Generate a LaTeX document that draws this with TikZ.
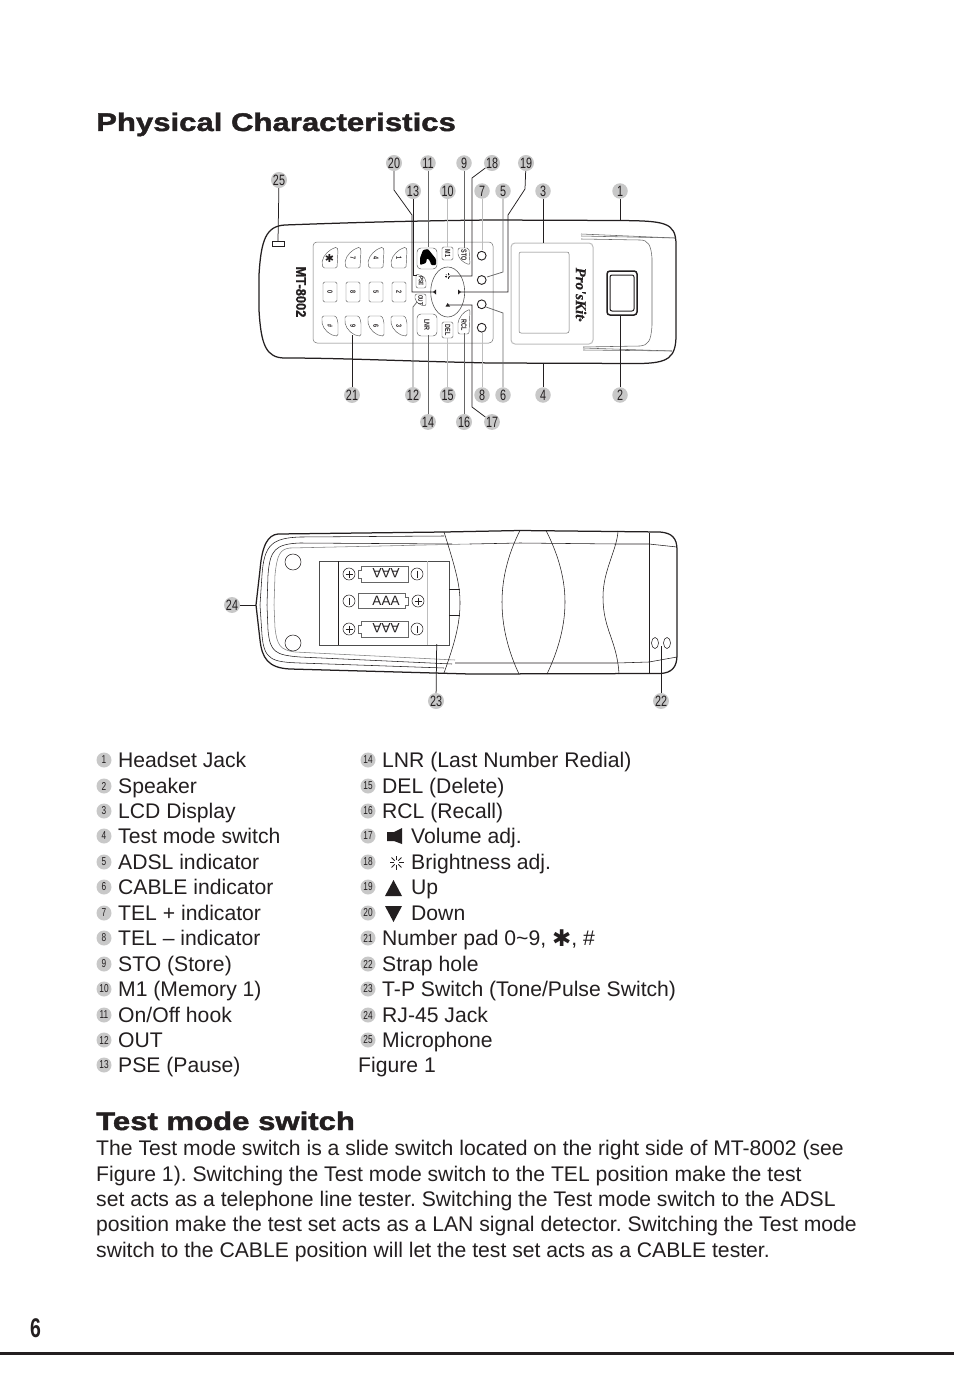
\documentclass[tikz,border=0pt]{standalone}
\usepackage{fontspec}
\usetikzlibrary{calc}
\setmainfont{Liberation Sans}
\newfontfamily\narrowf[FakeStretch=0.72]{Liberation Sans}
\newfontfamily\narrowb[FakeStretch=0.72]{Liberation Sans Bold}
\newfontfamily\modelb[FakeStretch=0.92,FakeBold=0.8]{Liberation Sans Bold}
\newfontfamily\widef[FakeStretch=1.22,FakeBold=1.7]{Liberation Sans Bold}
\newfontfamily\djv{DejaVu Sans}
\newfontfamily\logof[FakeBold=0.6]{Liberation Serif Bold Italic}
\newcommand{\fs}[1]{\fontsize{#1}{#1}\selectfont}
\definecolor{ink}{HTML}{231F20}
\definecolor{lab}{HTML}{C8C8C8}
\definecolor{lite}{HTML}{BDBDBD}
\tikzset{
 numlab/.style={circle,fill=lab,inner sep=0pt,minimum size=15.5pt,text=ink,font=\narrowf\fs{15}},
 leglab/.style={circle,fill=lab,inner sep=0pt,minimum size=15pt,text=ink,font=\narrowf\fs{11.5}},
 lead/.style={draw=ink,line width=.75pt},
 leadl/.style={draw=lite,line width=.9pt},
 body/.style={draw=ink,line width=1.25pt},
 thinl/.style={draw=ink,line width=.55pt},
 keyl/.style={draw=black!65,line width=.45pt},
 keyt/.style={font=\narrowb\fs{7.5},inner sep=0pt,rotate=-90,text=ink},
 txt/.style={anchor=base west,inner sep=0pt,text=ink,font=\fs{21.15}},
 head/.style={anchor=base west,inner sep=0pt,text=ink,font=\widef\fs{25.5}},
 sym/.style={fill=ink,draw=none},
}
\frenchspacing
\begin{document}
\begin{tikzpicture}[x=1pt,y=-1pt]
\useasboundingbox (0,0) rectangle (954,1383);
\fill[white] (0,0) rectangle (954,1383);
% titles
\node[head] (t1) at (96,131) {Physical Characteristics};
\node[head] (t2) at (96,1130) {Test mode switch};
% ---------- front view
\draw[body] (490,220) -- (620,220.5) .. controls (665,221) and (676,222) .. (676,245)
 -- (676,335) .. controls (676,358) and (668,363) .. (640,363.5) -- (490,363)
 .. controls (400,361) and (340,358) .. (285,358) .. controls (266,358) and (261,345) .. (259,310)
 -- (259,275) .. controls (261,240) and (266,226) .. (285,225) .. controls (340,223) and (400,221) .. (490,220);
\draw[draw=black!55,line width=.5pt,rounded corners=4pt] (313,242) rectangle (493,343);
\draw[draw=ink,line width=.7pt] (272,241) rectangle (284,246);
\node[rotate=-90,font=\modelb\fs{14},text=ink,inner sep=0] (model) at (301,292) {MT-8002};
% keypad
\foreach \cx/\a/\b/\c in {330/*/0/\#,353/7/8/9,376/4/5/6,399/1/2/3}{
 \draw[keyl,rounded corners=1.5pt] (\cx+7,247) .. controls (\cx,249) and (\cx-7,255) .. (\cx-8,263) -- (\cx-7,268) -- (\cx+7,268) -- (\cx+8,250) -- cycle;
 \draw[keyl,rounded corners=1.5pt] (\cx-7,282) rectangle (\cx+7,302);
 \draw[keyl,rounded corners=1.5pt] (\cx-8,316) -- (\cx+6,316) -- (\cx+8,322) -- (\cx+8,336) .. controls (\cx,336) and (\cx-7,329) .. (\cx-8,322) -- cycle;
 \node[keyt] at (\cx,258) {\a};
 \node[keyt] at (\cx,292) {\b};
 \node[keyt] at (\cx,325.5) {\c};
}
\node[font=\djv\fs{11},text=ink,inner sep=0] at (329.5,258) {✱};
% function keys
\draw[keyl,rounded corners=4pt] (417,248) rectangle (437,269);
\fill[black,rounded corners=1pt] (423,250) -- (428,249) -- (432,254) -- (436,259) -- (436,265) -- (431,265) -- (430,261) -- (427,258) -- (426,263) -- (420,265) -- (420,258) -- cycle;
\draw[keyl,rounded corners=1.5pt] (442,247) rectangle (453,260);
\node[keyt] at (447.7,253.5) {M1};
\draw[keyl,rounded corners=2pt] (458,248) -- (469,248) -- (470,265) -- (463,262) -- (458,256) -- cycle;
\node[keyt] at (464,255) {STO};
\draw[keyl,rounded corners=2pt] (416,274) -- (423,276) -- (426,280) -- (426,288) -- (416,288) -- cycle;
\node[keyt,font=\narrowb\fs{6.5}] at (421,281) {PSE};
\draw[keyl,rounded corners=2pt] (415,294) -- (426,294) -- (426,306) -- (420,305) -- (415,300) -- cycle;
\node[keyt,font=\narrowb\fs{6.5}] at (420.5,300) {OUT};
\draw[keyl,rounded corners=4pt] (417,314) rectangle (437,336);
\node[keyt] at (427,325) {LNR};
\draw[keyl,rounded corners=1.5pt] (442,322) rectangle (453,338);
\node[keyt] at (447.7,330) {DEL};
\draw[keyl,rounded corners=2pt] (458,334) -- (469,334) -- (470,309) -- (463,313) -- (458,321) -- cycle;
\node[keyt] at (464,325) {RCL};
% dpad
\draw[keyl,line width=.6pt] (447.7,292) ellipse (17 and 25);
\fill[ink] (436,289.5) -- (433,292) -- (436,294.5)--cycle;
\fill[ink] (458,289.5) -- (461,292) -- (458,294.5)--cycle;
\fill[ink] (445.5,306.5) -- (447.7,303) -- (450,306.5)--cycle;
\foreach \r in {0,45,...,315}{\draw[ink,line width=.4pt] ($(447.7,276)+(\r:1)$) -- ($(447.7,276)+(\r:2.6)$);}
% LEDs
\foreach \y in {255.7,280,304.3,327.7}{\draw[draw=ink,line width=.9pt] (481.7,\y) circle (4.4);}
% LCD and right part
\draw[draw=lite,line width=1pt,rounded corners=4pt] (511,243) rectangle (593,344);
\draw[draw=black!55,line width=.5pt,rounded corners=2pt] (519,252) rectangle (569,333);
\node[rotate=-90,font=\logof\fs{15},text=ink,inner sep=0] (logo) at (581,294.5) {Pro'sKit\raisebox{3pt}{\fs{4}®}};
\draw[body,line width=1.5pt,rounded corners=3pt] (607,271) rectangle (637,315);
\draw[thinl,rounded corners=2pt,line width=1pt] (610,275) rectangle (634,311);
\draw[thinl,draw=black!60] (581,234) -- (675,238);
\draw[thinl,draw=black!60] (581,236) -- (675,238);
\draw[thinl,draw=black!60] (581,239) -- (640,240) .. controls (648,240) and (651,245) .. (652,258) -- (652,325) .. controls (651,342) and (648,345) .. (640,346) -- (583,347);
\draw[thinl,draw=black!60] (583,350) -- (672,351);
\draw[thinl,draw=black!60] (583,348) -- (672,351);
% labels front
\foreach \n/\x/\y in {20/394/163,11/428/163,9/464/163,18/492/163,19/526/163,25/279/180,13/413/191,10/447.7/191,7/482/191,5/503/191,3/543/191,1/620/191,21/352/395,12/413/395,15/447.7/395,8/482/395,6/503/395,4/543/395,2/620/395,14/428/422,16/464/422,17/492/422,24/232/605,23/436/701,22/661/701}{
 \node[numlab] (n\n) at (\x,\y) {\n};
}
% free ends
\coordinate (c20) at (435,292); \coordinate (c13) at (417,275); \coordinate (c11) at (428,247);
\coordinate (c10) at (447.7,247); \coordinate (c9) at (464,248); \coordinate (c18) at (450,276);
\coordinate (c7) at (482,250); \coordinate (c5) at (487,277); \coordinate (c19) at (460,292);
\coordinate (c3) at (543,243); \coordinate (c1) at (620,220.5); \coordinate (c2) at (620,316);
\coordinate (c4) at (543,363); \coordinate (c6) at (486,307); \coordinate (c8) at (482,332);
\coordinate (c17) at (449,305); \coordinate (c16) at (464,333); \coordinate (c15) at (447.7,338);
\coordinate (c14) at (428,335); \coordinate (c12) at (417,302); \coordinate (c21) at (352,335);
\coordinate (c25) at (278,241); \coordinate (c24) at (256,605); \coordinate (c23) at (436.7,644);
\coordinate (c22) at (661,646);
\draw[lead] (n20) -- (394,190) -- (412,215) -- (412,292) -- (c20);
\draw[lead] (n13) -- (413,275) -- (c13);
\draw[lead,draw=black!60] (n11) -- (c11);
\draw[leadl] (n10) -- (c10);
\draw[lead,draw=black!60] (n9) -- (c9);
\draw[lead] (n18) -- (472,178) -- (472,276) -- (c18);
\draw[leadl] (n7) -- (c7);
\draw[lead,draw=black!60] (n5) -- (503,272) -- (c5);
\draw[lead] (n19) -- (525,189) -- (508,215) -- (508,292) -- (c19);
\draw[lead] (n3) -- (c3);
\draw[lead] (n1) -- (c1);
\draw[lead] (n2) -- (c2);
\draw[lead] (n4) -- (c4);
\draw[lead,draw=black!60] (n6) -- (503,313) -- (c6);
\draw[leadl] (n8) -- (c8);
\draw[lead] (n17) -- (472,407) -- (472,305) -- (c17);
\draw[lead,draw=black!60] (n16) -- (c16);
\draw[leadl] (n15) -- (c15);
\draw[lead,draw=black!60] (n14) -- (c14);
\draw[lead,draw=black!60] (n12) -- (413,307) -- (c12);
\draw[lead] (n21) -- (c21);
\draw[lead] (n25) -- (c25);
% ---------- back view
\draw[body] (278,534) -- (444,532) -- (520,530.5) -- (660,532) .. controls (672,533) and (677,538) .. (677,550)
 -- (677,655) .. controls (677,667) and (672,673) .. (660,673.5) -- (470,674)
 -- (290,669) .. controls (268,668) and (262,658) .. (260,640) -- (256,605) -- (260,570)
 .. controls (262,545) and (268,535) .. (278,534) -- cycle;
\draw[thinl] (444,536) -- (300,537) .. controls (272,538) and (264,545) .. (262,575) -- (260,605) -- (262,635) .. controls (264,660) and (272,662) .. (300,663) -- (444,668);
\draw[thinl] (452,544) -- (300,543) .. controls (275,544) and (270,550) .. (268,575) -- (267,605) -- (268,630) .. controls (270,652) and (275,655) .. (300,657) -- (452,664);
\draw[thinl] (470,544) -- (520,543) -- (617,544) -- (649,544) -- (677,547);
\draw[thinl,draw=black!50] (290,548) .. controls (280,549) and (277,555) .. (275,575) -- (274,605) -- (275,628) .. controls (277,645) and (280,650) .. (295,652) -- (455,660);
\draw[thinl,draw=black!50] (290,548) -- (470,544);
\draw[thinl] (455,663) -- (617,663) -- (649,662) -- (677,657);
\draw[thinl] (444,532) .. controls (456,570) and (460,585) .. (460,603) .. controls (460,625) and (454,645) .. (444,673);
\draw[thinl] (520,530.5) .. controls (510,550) and (502,575) .. (502,602) .. controls (502,630) and (510,655) .. (519,674);
\draw[thinl] (546,530.5) .. controls (556,550) and (565,575) .. (565,602) .. controls (565,630) and (556,655) .. (547,674);
\draw[thinl] (618,531) .. controls (617,550) and (603,570) .. (603,597) .. controls (603,630) and (617,640) .. (619,674);
\draw[thinl] (649,533) -- (649,673);
\draw[thinl] (655,643) ellipse (3.5 and 5.5);
\draw[thinl] (667,643) ellipse (3.5 and 5.5);
\draw[thinl] (293,562) circle (8);
\draw[thinl] (293,643) circle (8);
\draw[thinl,draw=black!70] (319,561) rectangle (449,645);
\draw[thinl] (338,561) -- (338,645);
\draw[draw=lite,line width=.9pt] (427,561) -- (427,645);
\draw[thinl] (449,589) -- (460,589);
\draw[thinl] (449,615) -- (460,615);
% batteries
\foreach \y/\s in {574/u,629/u}{
 \draw[thinl,draw=black!60] (361,\y-8) -- (408,\y-8) -- (408,\y+8) -- (361,\y+8) -- (361,\y+4) -- (358,\y+4) -- (358,\y-4) -- (361,\y-4) -- cycle;
 \node[rotate=180,font=\fs{13.5},text=ink,inner sep=0] at (386,\y-.5) {AAA};
 \draw[thinl] (349,\y) circle (6);
 \draw[thinl] (345.5,\y) -- (352.5,\y) (349,\y-3.5) -- (349,\y+3.5);
 \draw[thinl] (417,\y) circle (6);
 \draw[thinl] (417,\y-3.5) -- (417,\y+3.5);
}
\draw[thinl,draw=black!60] (358,593) -- (405,593) -- (405,597) -- (408,597) -- (408,605) -- (405,605) -- (405,608.5) -- (358,608.5) -- cycle;
\node[font=\fs{13.5},text=ink,inner sep=0] at (386,600.5) {AAA};
\draw[thinl] (349,601) circle (6);
\draw[thinl] (349,597.5) -- (349,604.5);
\draw[thinl] (418,601) circle (6);
\draw[thinl] (414.5,601) -- (421.5,601) (418,597.5) -- (418,604.5);
\draw[lead] (n24) -- (c24);
\draw[lead] (n23) -- (c23);
\draw[lead] (n22) -- (c22);
% ---------- legend
\foreach \n/\y/\t in {1/760/Headset Jack,2/786/Speaker,3/811/LCD Display,4/836/Test mode switch,5/862/ADSL indicator,6/887/CABLE indicator,7/913/TEL + indicator,8/938/TEL – indicator,9/964/STO (Store),10/989/M1 (Memory 1),11/1015/{On/Off hook},12/1040/OUT,13/1065/PSE (Pause)}{
 \node[leglab] (l\n) at (104,\y) {\n};
 \node[txt] (lt\n) at (118,\y+7.5) {\t};
}
\foreach \n/\y/\x/\t in {14/760/382/LNR (Last Number Redial),15/786/382/DEL (Delete),16/811/382/RCL (Recall),17/836/411/Volume adj.,18/862/411/Brightness adj.,19/887/411/Up,20/913/411/Down,21/938/382/{Number pad 0\textasciitilde 9, \raisebox{-1pt}{\djv\fs{23}✱}, \#},22/964/382/Strap hole,23/989/382/{T-P Switch (Tone/Pulse Switch)},24/1015/382/RJ-45 Jack,25/1040/382/Microphone}{
 \node[leglab] (l\n) at (368,\y) {\n};
 \node[txt] (lt\n) at (\x,\y+7.5) {\t};
}
\node[txt] (fig) at (358,1072.5) {Figure 1};
% legend symbols
\fill[sym] (387,832) -- (394,832) -- (402,828) -- (402,844) -- (394,841) -- (387,841) -- cycle;
\foreach \r in {0,45,...,315}{\draw[ink,line width=.9pt] ($(396.5,862.5)+(\r:2.5)$) -- ($(396.5,862.5)+(\r:7)$);}
\fill[sym] (393.5,880) -- (402,896) -- (385,896) -- cycle;
\fill[sym] (393.5,922) -- (402,906) -- (385,906) -- cycle;
% paragraph
\foreach \i/\y/\t in {1/1155.5/The Test mode switch is a slide switch located on the right side of MT-8002 (see,2/1181/{Figure 1). Switching the Test mode switch to the TEL position make the test},3/1206/set acts as a telephone line tester. Switching the Test mode switch to the ADSL,4/1231.5/position make the test set acts as a LAN signal detector. Switching the Test mode,5/1257/switch to the CABLE position will let the test set acts as a CABLE tester.}{
 \node[txt] (p\i) at (96,\y) {\t};
}
% footer
\node[anchor=base west,inner sep=0,font=\narrowb\fs{27},text=ink] (pg) at (30,1337) {6};
\fill[ink] (0,1352) rectangle (954,1355);
\end{tikzpicture}
\end{document}
